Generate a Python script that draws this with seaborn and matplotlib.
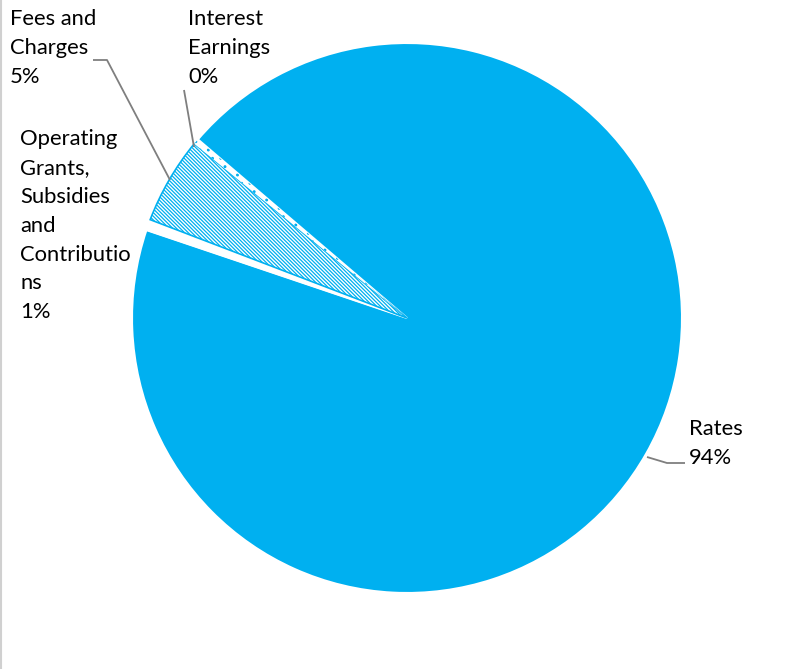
import matplotlib
matplotlib.use("Agg")
import matplotlib.pyplot as plt
import seaborn as sns

categories = ["Rates", "Operating\nGrants,\nSubsidies\nand\nContributio\nns", "Fees and\nCharges", "Interest\nEarnings"]
values = [93.93, 0.64, 5.10, 0.33]
pct_labels = ["94%", "1%", "5%", "0%"]

sns.set_theme(style="white")
plt.rcParams['font.family'] = ['Lato', 'DejaVu Sans']
plt.rcParams['hatch.linewidth'] = 0.9

W, H = 785, 669
fig = plt.figure(figsize=(W / 100, H / 100), dpi=100)
ax = fig.add_axes([0, 0, 1, 1])

blue = "#00B0F0"
cx, cy, r = 407, H - 318, 275
wedges, _ = ax.pie(values, startangle=139.5, counterclock=False, center=(cx, cy), radius=r,
                   colors=[blue, "white", "white", "white"],
                   wedgeprops=dict(linewidth=0), frame=True)
ax.set_xlim(0, W)
ax.set_ylim(0, H)
ax.set_aspect('equal')
ax.axis('off')
wedges[0].set_edgecolor("white"); wedges[0].set_linewidth(1.5)
wedges[1].set_edgecolor("white"); wedges[1].set_linewidth(1.0)
wedges[2].set_hatch('\\' * 9); wedges[2].set_edgecolor(blue); wedges[2].set_linewidth(1.2)
wedges[3].set_hatch('..'); wedges[3].set_edgecolor(blue); wedges[3].set_linewidth(0.0)

def px(x, y):
    return x, H - y

fs = 15.8
label_pos = {
    0: (689, 419),
    1: (20, 129),
    2: (10, 9),
    3: (188, 9),
}
for i, (lx, ly) in label_pos.items():
    x, y = px(lx, ly)
    ax.text(x, y, f"{categories[i]}\n{pct_labels[i]}", ha='left', va='top',
            fontsize=fs, color="#000000", linespacing=1.555)

lc = "#7f7f7f"
for pts in [
    [(93, 60), (107, 60), (170, 180)],
    [(184, 90), (194, 147)],
    [(647, 457), (667, 463), (685, 463)],
]:
    xs = [p[0] for p in pts]
    ys = [H - p[1] for p in pts]
    ax.plot(xs, ys, color=lc, lw=1.3, solid_capstyle='butt')

ax.plot([0.5, 0.5], [0, H], color="#d0d0d0", lw=1.5)

fig.savefig("out.png", dpi=100)
